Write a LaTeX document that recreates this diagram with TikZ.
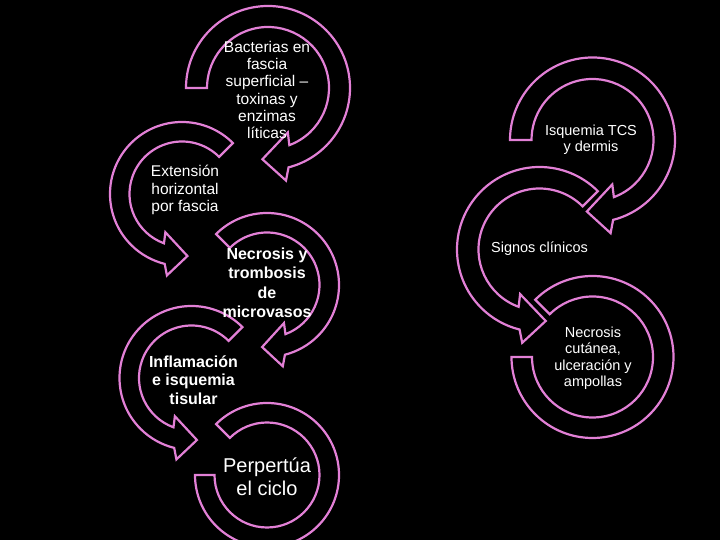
\documentclass[tikz,border=0pt]{standalone}
\usepackage{fontspec}
\setmainfont{Liberation Sans}
\definecolor{pk}{RGB}{226,128,214}
\tikzset{
  arrowshape/.style={draw=pk, fill=black, line width=2.2pt, line join=miter},
  txt/.style={text=white, align=center, inner sep=0pt},
}
\newcommand{\cirArrow}[7]{%
 \pgfmathsetmacro\qCy{540-#2}%
 \pgfmathsetmacro\qE{0.15*#3}%
 \pgfmathsetmacro\qM{(#3+#4)/2}%
 \pgfmathsetmacro\qRo{#3+\qE}%
 \pgfmathsetmacro\qRi{#4-\qE}%
 \pgfmathsetmacro\qAib{#6+(#7)*28.5}%
 \pgfmathsetmacro\qAob{#6+(#7)*15.5}%
 \pgfmathsetmacro\qTin{\qE/(#3-#4+2*\qE)}%
 \pgfmathsetmacro\qTout{(#3-#4+\qE)/(#3-#4+2*\qE)}%
 \pgfmathsetmacro\qAij{\qAib+\qTin*(\qAob-\qAib)}%
 \pgfmathsetmacro\qAoj{\qAib+\qTout*(\qAob-\qAib)}%
 \draw[arrowshape] ([shift={(#1,\qCy)}]#5:#3) arc[start angle=#5, end angle=\qAoj, radius=#3]
   -- ([shift={(#1,\qCy)}]\qAob:\qRo) -- ([shift={(#1,\qCy)}]#6:\qM)
   -- ([shift={(#1,\qCy)}]\qAib:\qRi) -- ([shift={(#1,\qCy)}]\qAij:#4)
   arc[start angle=\qAij, end angle=#5, radius=#4] -- cycle;
}
\newcommand{\blkArc}[6]{%
 \pgfmathsetmacro\qCy{540-#2}%
 \draw[arrowshape] ([shift={(#1,\qCy)}]#5:#3) arc[start angle=#5, end angle=#6, radius=#3]
   -- ([shift={(#1,\qCy)}]#6:#4) arc[start angle=#6, end angle=#5, radius=#4] -- cycle;
}
\begin{document}
\begin{tikzpicture}[x=1pt, y=1pt]
\useasboundingbox (0,0) rectangle (720,540);
\fill[black] (0,0) rectangle (720,540);
\clip (0,0) rectangle (720,540);
% left column
\cirArrow{268}{88}{82}{61}{180}{-94.5}{1}
\cirArrow{182}{194}{72}{52.5}{45}{275}{-1}
\cirArrow{267}{285}{72}{52.5}{135}{-94.5}{1}
\cirArrow{191.5}{378}{72}{52.5}{45}{275}{-1}
\blkArc{267}{475}{72}{52.5}{135}{-180}
% right column
\cirArrow{592.5}{140}{82.5}{61}{180}{-94.5}{1}
\cirArrow{539.5}{249.5}{82.5}{61}{45}{275}{-1}
\blkArc{592.5}{357}{81}{60.5}{135}{-180}
% texts
\node[txt, font=\fontsize{15.5}{17.2}\selectfont] (t1) at (267,450) {Bacterias en\\fascia\\superficial –\\toxinas y\\enzimas\\líticas};
\node[txt, font=\fontsize{15.5}{17.5}\selectfont] (t2) at (185,350) {Extensión\\horizontal\\por fascia};
\node[txt, font=\fontsize{16}{19.5}\selectfont\bfseries] (t3) at (267,257) {Necrosis y\\trombosis\\de\\microvasos};
\node[txt, font=\fontsize{16}{18.3}\selectfont\bfseries] (t4) at (193.5,160) {Inflamación\\e isquemia\\tisular};
\node[txt, font=\fontsize{20}{23}\selectfont] (t5) at (267,63.5) {Perpertúa\\el ciclo};
\node[txt, font=\fontsize{14.5}{16.5}\selectfont] (t6) at (591,400) {Isquemia TCS\\y dermis};
\node[txt, font=\fontsize{14.5}{16.5}\selectfont] (t7) at (539.5,291) {Signos clínicos};
\node[txt, font=\fontsize{14.5}{16.5}\selectfont] (t8) at (593,181.5) {Necrosis\\cutánea,\\ulceración y\\ampollas};
\end{tikzpicture}
\end{document}
